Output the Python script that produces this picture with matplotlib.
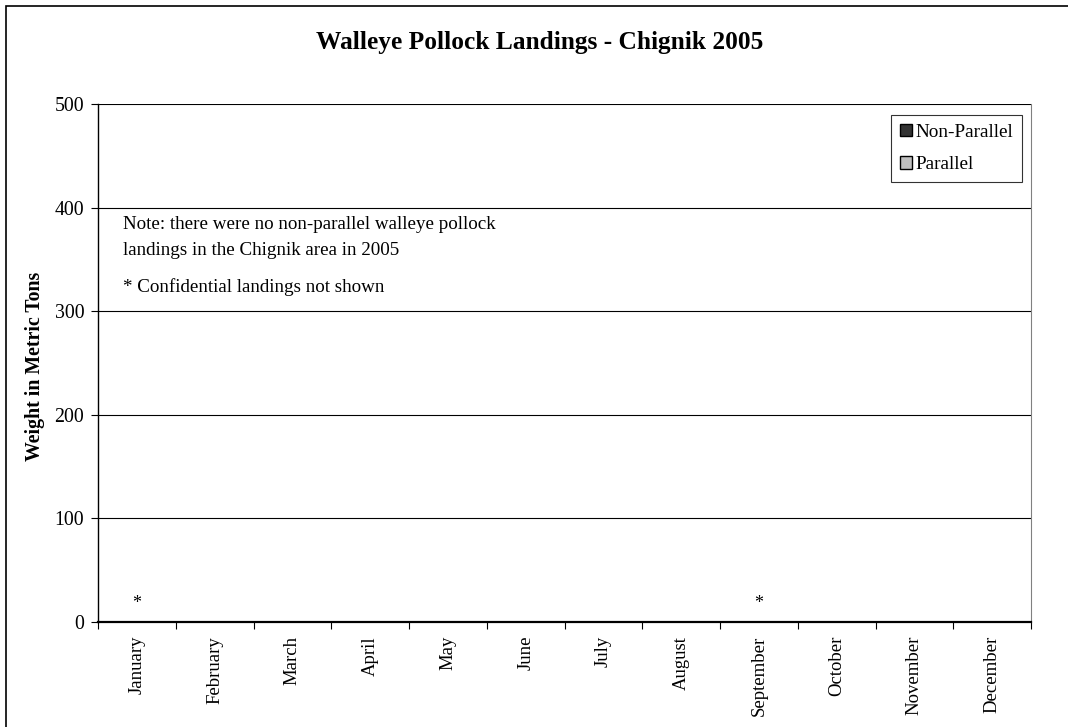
import numpy as np
import matplotlib.pyplot as plt
from matplotlib.patches import Rectangle, Patch

plt.rcParams["font.family"] = ["Liberation Serif", "DejaVu Serif"]

months = ["January", "February", "March", "April", "May", "June", "July",
          "August", "September", "October", "November", "December"]
non_parallel = [0, 0, 0, 0, 0, 0, 0, 0, 0, 0, 0, 0]
parallel = [0, 0, 0, 0, 0, 0, 0, 0, 0, 0, 0, 0]
confidential = ["January", "September"]
y_ticks = [0, 100, 200, 300, 400, 500]

fig = plt.figure(figsize=(10.68, 7.27), dpi=100)
ax = fig.add_axes([0.0918, 0.1444, 0.8736, 0.7125])

x = np.arange(len(months))
w = 0.35
ax.bar(x - w / 2, non_parallel, w, color="#333333", linewidth=0)
ax.bar(x + w / 2, parallel, w, color="#c0c0c0", linewidth=0)

# confidential months get an asterisk instead of a bar
for m in confidential:
    ax.text(months.index(m), 18, "*", ha="center", va="center", fontsize=13)

ax.set_xlim(-0.5, len(months) - 0.5)
ax.set_ylim(0, 500)
ax.set_yticks(y_ticks)
ax.tick_params(axis="y", direction="out", length=5, width=0.8, labelsize=14.3, pad=5)
ax.set_xticks(x)
ax.set_xticklabels(months, rotation=90, fontsize=13.5)
ax.tick_params(axis="x", which="major", length=0, pad=10)
ax.set_xticks(np.arange(-0.5, len(months)), minor=True)
ax.tick_params(axis="x", which="minor", direction="out", length=5, width=0.8)

ax.yaxis.grid(True, color="black", linewidth=0.8)
ax.set_axisbelow(True)
ax.spines["top"].set_visible(False)
ax.spines["right"].set_color("#808080")
ax.spines["left"].set_linewidth(1.0)
ax.spines["bottom"].set_linewidth(1.6)

fig.text(0.505, 1 - 42 / 727, "Walleye Pollock Landings - Chignik 2005",
         ha="center", va="center", fontsize=18.3, fontweight="bold")
fig.text(35 / 1068, 1 - 366 / 727, "Weight in Metric Tons", rotation=90,
         ha="center", va="center", fontsize=14.3, fontweight="bold")

ax.text(0.027, 0.768, "Note: there were no non-parallel walleye pollock",
        transform=ax.transAxes, ha="left", va="center", fontsize=13.7)
ax.text(0.027, 0.718, "landings in the Chignik area in 2005",
        transform=ax.transAxes, ha="left", va="center", fontsize=13.7)
ax.text(0.027, 0.647, "* Confidential landings not shown",
        transform=ax.transAxes, ha="left", va="center", fontsize=13.7)

handles = [Patch(facecolor="#333333", edgecolor="black", label="Non-Parallel"),
           Patch(facecolor="#c0c0c0", edgecolor="black", label="Parallel")]
leg = ax.legend(handles=handles, loc="upper right", bbox_to_anchor=(0.990, 0.979),
                fontsize=13.9, frameon=True, fancybox=False, handlelength=0.65,
                handleheight=0.65, handletextpad=0.15, labelspacing=0.8,
                borderpad=0.45, borderaxespad=0)
leg.get_frame().set_edgecolor("black")
leg.get_frame().set_linewidth(0.8)

# chart border
fig.patches.append(Rectangle((6 / 1068, -0.05), 1.1, 1 - 6 / 727 + 0.05,
                             transform=fig.transFigure, fill=False,
                             edgecolor="black", linewidth=1.2))

fig.savefig("out.png", dpi=100)
